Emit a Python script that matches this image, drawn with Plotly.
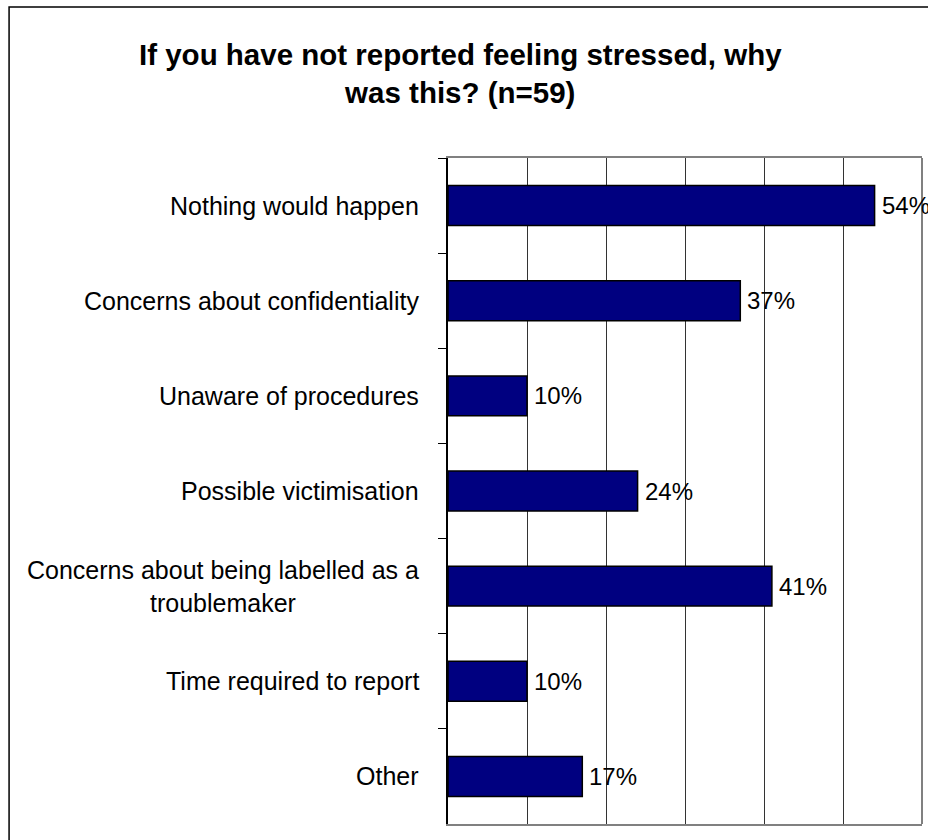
import plotly.graph_objects as go

# Survey responses (percent of respondents, n=59)
categories = [
    "Nothing would happen",
    "Concerns about confidentiality",
    "Unaware of procedures",
    "Possible victimisation",
    "Concerns about being labelled as a<br>troublemaker",
    "Time required to report",
    "Other",
]
values = [54, 37, 10, 24, 41, 10, 17]

FONT = "Arial, Liberation Sans, sans-serif"

fig = go.Figure(
    go.Bar(
        x=values,
        y=categories,
        orientation="h",
        marker=dict(color="#000080", line=dict(color="#000000", width=1.5)),
        hoverinfo="skip",
    )
)

# Value labels just past the end of each bar
for cat, v in zip(categories, values):
    fig.add_annotation(
        x=v, xref="x", y=cat, yref="y",
        text=f"{v}%", showarrow=False,
        xanchor="left", xshift=5,
        font=dict(family=FONT, size=24, color="#000000"),
    )

# Category labels, centred line by line, to the left of the axis
for cat in categories:
    fig.add_annotation(
        x=0, xref="paper", y=cat, yref="y",
        text=cat, showarrow=False,
        xanchor="right", align="center", xshift=-27,
        font=dict(family=FONT, size=25, color="#000000"),
    )

# Right edge of the plot frame
fig.add_shape(type="line", xref="paper", yref="paper", x0=1, x1=1, y0=0, y1=1,
              line=dict(color="#808080", width=2))
# Outer chart border
fig.add_shape(type="rect", xref="paper", yref="paper",
              x0=-0.926, x1=1.3, y0=-0.1, y1=1.2267,
              line=dict(color="#000000", width=1.5), fillcolor="rgba(0,0,0,0)")

fig.update_layout(
    width=928, height=840,
    margin=dict(l=448, r=6, t=158, b=16),
    paper_bgcolor="#ffffff", plot_bgcolor="#ffffff",
    bargap=0.58,
    showlegend=False,
    title=dict(
        text="If you have not reported feeling stressed, why<br>was this? (n=59)",
        font=dict(family=FONT, size=29.5, color="#000000", weight="bold"),
        xref="container", x=0.496, xanchor="center",
        yref="container", y=0.923, yanchor="middle",
    ),
    xaxis=dict(
        range=[0, 60], dtick=10, showgrid=True, gridcolor="#333333", gridwidth=1,
        showticklabels=False, ticks="", zeroline=False,
        showline=True, linecolor="#808080", linewidth=2, mirror=True,
    ),
    yaxis=dict(
        autorange="reversed", showticklabels=False,
        ticks="outside", ticklen=8, tickcolor="#000000", tickwidth=1,
        tickson="boundaries", showgrid=False,
        showline=True, linecolor="#000000", linewidth=2,
    ),
)

fig.write_html("out.html")
